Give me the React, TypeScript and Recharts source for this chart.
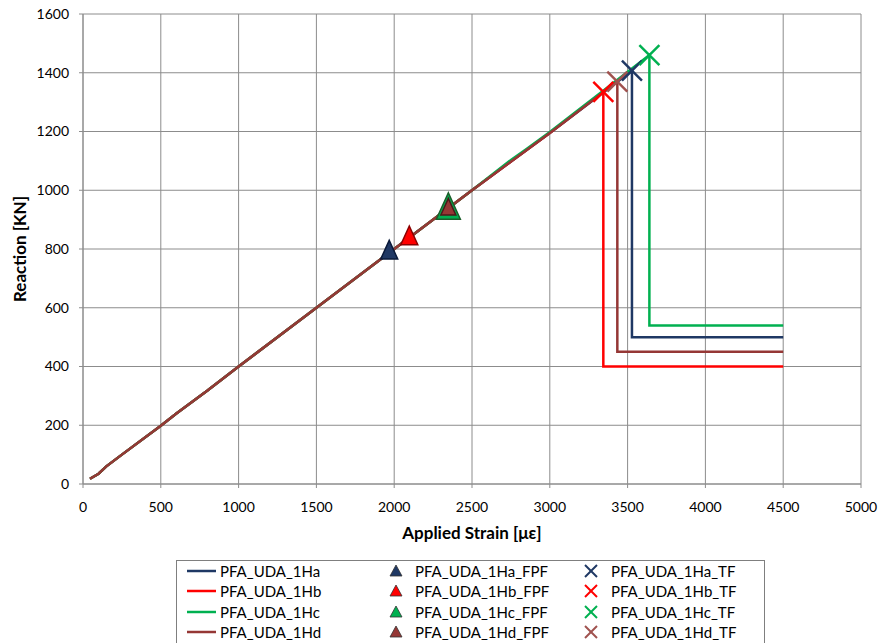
import React from 'react';
import { ComposedChart, Line, Scatter, XAxis, YAxis, CartesianGrid } from 'recharts';

const seriesNames = ['PFA_UDA_1Ha', 'PFA_UDA_1Hb', 'PFA_UDA_1Hc', 'PFA_UDA_1Hd'];
const lineColors = ['#1F3864', '#FF0000', '#00B050', '#953735'];
const tfColors = ['#1F3864', '#FF0000', '#00B050', '#A0524F'];

const strainHa = [45, 100, 150, 250, 500, 600, 800, 1000, 1500, 2000, 2500, 3000, 3528, 3528, 4500];
const reactionHa = [18, 35, 60, 100, 198, 240, 318, 400, 600, 800, 1000, 1195, 1407, 500, 500];
const strainHb = [45, 100, 150, 250, 500, 600, 800, 1000, 1500, 2000, 2500, 3000, 3344, 3344, 4500];
const reactionHb = [18, 35, 60, 100, 198, 240, 318, 400, 600, 800, 1000, 1195, 1335, 400, 400];
const strainHc = [45, 100, 150, 250, 500, 600, 800, 1000, 1500, 2000, 2500, 2750, 2850, 3000, 3640, 3640, 4500];
const reactionHc = [18, 35, 60, 100, 198, 240, 318, 400, 600, 800, 1000, 1103, 1140, 1198, 1460, 540, 540];
const strainHd = [45, 100, 150, 250, 500, 600, 800, 1000, 1500, 2000, 2500, 3000, 3434, 3434, 4500];
const reactionHd = [18, 35, 60, 100, 198, 240, 318, 400, 600, 800, 1000, 1195, 1370, 450, 450];

const fpfStrain = [1968, 2097, 2348, 2348];
const fpfReaction = [793, 842, 940, 940];
const tfStrain = [3528, 3344, 3640, 3434];
const tfReaction = [1407, 1335, 1460, 1370];

const xTicks = [0, 500, 1000, 1500, 2000, 2500, 3000, 3500, 4000, 4500, 5000];
const yTicks = [0, 200, 400, 600, 800, 1000, 1200, 1400, 1600];

const strains = [strainHa, strainHb, strainHc, strainHd];
const reactions = [reactionHa, reactionHb, reactionHc, reactionHd];

const lineData = strains.map((s, i) => s.map((x, j) => ({ x, y: reactions[i][j] })));

const FONT = 'Lato, "Open Sans", sans-serif';

const makeTriangle = (fill: string, stroke: string, size: number) => (props: any) => {
  const { cx, cy } = props;
  const h = size * 1.05;
  const w = size;
  const pts = `${cx},${cy - h * 0.6} ${cx - w / 2},${cy + h * 0.45} ${cx + w / 2},${cy + h * 0.45}`;
  return <polygon points={pts} fill={fill} stroke={stroke} strokeWidth={1.5} />;
};

const makeX = (color: string, r: number) => (props: any) => {
  const { cx, cy } = props;
  return (
    <g stroke={color} strokeWidth={2.5}>
      <line x1={cx - r} y1={cy - r} x2={cx + r} y2={cy + r} />
      <line x1={cx - r} y1={cy + r} x2={cx + r} y2={cy - r} />
    </g>
  );
};

const triShapes = [
  makeTriangle('#1F3864', '#0A1A3A', 17),
  makeTriangle('#FF0000', '#8B0000', 17),
  makeTriangle('#00B050', '#1A5E2A', 24),
  makeTriangle('#953735', '#4A1A1A', 15),
];

const LegendBox = () => {
  const rowTop = (i: number) => i * 20.3;
  return (
    <div
      style={{
        position: 'absolute',
        left: 176,
        top: 560,
        width: 589,
        height: 100,
        border: '1px solid #7F7F7F',
        boxSizing: 'border-box',
        background: '#fff',
        fontFamily: FONT,
        fontSize: 15,
        color: '#000',
      }}
    >
      {seriesNames.map((name, i) => (
        <React.Fragment key={name}>
          <div style={{ position: 'absolute', left: 10, top: rowTop(i), height: 20, display: 'flex', alignItems: 'center' }}>
            <svg width={29} height={20}>
              <line x1={0} y1={10} x2={29} y2={10} stroke={lineColors[i]} strokeWidth={2.5} />
            </svg>
            <span style={{ marginLeft: 4 }}>{name}</span>
          </div>
          <div style={{ position: 'absolute', left: 210, top: rowTop(i), height: 20, display: 'flex', alignItems: 'center' }}>
            <svg width={18} height={20}>
              <polygon points="9,4 3,15 15,15" fill={i === 2 ? '#00B050' : lineColors[i]} stroke="#333" strokeWidth={0.8} />
            </svg>
            <span style={{ marginLeft: 10 }}>{name}_FPF</span>
          </div>
          <div style={{ position: 'absolute', left: 405, top: rowTop(i), height: 20, display: 'flex', alignItems: 'center' }}>
            <svg width={18} height={20}>
              <g stroke={tfColors[i]} strokeWidth={2}>
                <line x1={3} y1={4} x2={15} y2={16} />
                <line x1={3} y1={16} x2={15} y2={4} />
              </g>
            </svg>
            <span style={{ marginLeft: 11 }}>{name}_TF</span>
          </div>
        </React.Fragment>
      ))}
    </div>
  );
};

export default function App() {
  return (
    <div style={{ position: 'absolute', left: 0, top: 0, width: 879, height: 643, background: '#fff', overflow: 'hidden' }}>
      <ComposedChart width={879} height={643} margin={{ top: 14, right: 18, bottom: 109, left: 0 }}>
        <CartesianGrid stroke="#8C8C8C" strokeWidth={1} />
        <XAxis
          type="number"
          dataKey="x"
          domain={[0, 5000]}
          ticks={xTicks}
          interval={0}
          height={50}
          stroke="#8C8C8C"
          tickSize={4}
          tick={{ fill: '#000', fontSize: 14, fontFamily: FONT }}
          tickMargin={14}
          allowDuplicatedCategory={false}
          label={{ value: 'Applied Strain [\u03bc\u03b5]', position: 'bottom', offset: -7, style: { fontWeight: 'bold', fontSize: 17, fontFamily: FONT, fill: '#000' } }}
        />
        <YAxis
          type="number"
          dataKey="y"
          domain={[0, 1600]}
          ticks={yTicks}
          interval={0}
          width={83}
          stroke="#8C8C8C"
          tickSize={4}
          tickMargin={10}
          tick={{ fill: '#000', fontSize: 14, fontFamily: FONT }}
          label={{ value: 'Reaction [KN]', angle: -90, position: 'insideLeft', offset: 20, style: { fontWeight: 'bold', fontSize: 17, fontFamily: FONT, fill: '#000', textAnchor: 'middle' } }}
        />
        {lineData.map((d, i) => (
          <Line
            key={seriesNames[i]}
            data={d}
            dataKey="y"
            type="linear"
            stroke={lineColors[i]}
            strokeWidth={2.5}
            dot={false}
            activeDot={false}
            isAnimationActive={false}
          />
        ))}
        {seriesNames.map((n, i) => (
          <Scatter
            key={n + '_FPF'}
            data={[{ x: fpfStrain[i], y: fpfReaction[i] }]}
            dataKey="y"
            shape={triShapes[i]}
            isAnimationActive={false}
          />
        ))}
        {seriesNames.map((n, i) => (
          <Scatter
            key={n + '_TF'}
            data={[{ x: tfStrain[i], y: tfReaction[i] }]}
            dataKey="y"
            shape={makeX(tfColors[i], 10)}
            isAnimationActive={false}
          />
        ))}
      </ComposedChart>
      <LegendBox />
    </div>
  );
}
